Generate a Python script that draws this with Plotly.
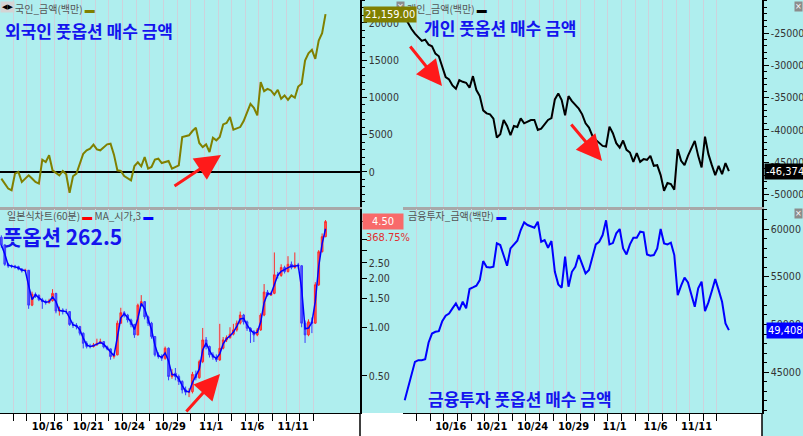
import numpy as np
import pandas as pd
import plotly.graph_objects as go

W, H = 803, 436

# ---------------- data ----------------
days = ["10/11", "10/14", "10/15", "10/16", "10/17", "10/18", "10/21", "10/22", "10/23",
        "10/24", "10/25", "10/28", "10/29", "10/30", "10/31", "11/1", "11/4", "11/5",
        "11/6", "11/7", "11/8", "11/11", "11/12", "11/13"]
label_days = ["10/16", "10/21", "10/24", "10/29", "11/1", "11/6", "11/11"]
bars_per_day = 4

foreign_amt = [-890, -1560, -2230, -2450, -220, 0, -1340, -890, -450, -890,
               -1340, -1560, 1650, 1340, 2230, 220, -130, -450, 130, -310,
               -2810, -580, -220, 1120, 2450, 2900, 3120, 3660, 3030, 2900,
               3340, 3700, 3790, 2320, 220, 130, -540, -800, -1120, 800,
               1290, 760, 2010, 450, 670, 1650, 1780, 1200, 1340, 1470,
               450, 670, 890, 4680, 4770, 4910, 5490, 5930, 3880, 3340,
               3700, 2680, 4590, 4240, 4680, 6380, 6560, 7360, 5660, 5800,
               6020, 6820, 8030, 9140, 8610, 7580, 12040, 10840, 11150, 10930,
               10350, 11020, 9810, 10260, 9680, 10260, 9950, 11460, 11820, 14940,
               15920, 16370, 15160, 17620, 18600, 21159]

individual_amt = [-22530, -23560, -24380, -25100, -25620, -26230, -26030, -26800, -27060, -28190,
                  -28600, -30140, -31840, -32200, -33120, -33640, -32300, -32560, -32710, -33480,
                  -31680, -33840, -34770, -36980, -37440, -37590, -38260, -41190, -40680, -38470,
                  -39390, -40830, -39390, -39550, -38210, -38980, -38780, -38470, -38470, -40010,
                  -39800, -39140, -38470, -38160, -35280, -34350, -35380, -37750, -34770, -35540,
                  -36200, -36720, -37590, -38980, -39650, -40930, -41550, -41960, -42480, -42580,
                  -39490, -40520, -42060, -42730, -41650, -43090, -43500, -44940, -43610, -44940,
                  -44530, -44630, -44020, -45560, -45460, -47000, -49420, -48230, -48390, -49260,
                  -42990, -44790, -45460, -44020, -42730, -41700, -44020, -45820, -41040, -43760,
                  -45460, -47000, -45560, -46850, -45150, -46374]

finance_amt = [42060, 43460, 44750, 46080, 46260, 46260, 46360, 48110, 49050, 49230,
               49300, 50350, 50910, 51150, 51680, 52200, 51500, 52380, 51680, 53710,
               53880, 54060, 54650, 56640, 56010, 55980, 56050, 58500, 58320, 57270,
               56150, 57970, 58390, 58780, 59900, 60700, 60420, 60240, 60140, 60770,
               58670, 58850, 58040, 58740, 55520, 54200, 53850, 57100, 53950, 55520,
               56050, 57270, 56290, 55350, 55700, 57100, 58390, 58670, 59370, 60910,
               58390, 58530, 59550, 60000, 57970, 57340, 58390, 59090, 59090, 59720,
               59650, 57340, 57200, 57270, 57970, 60000, 58500, 58390, 58570, 57270,
               53080, 54060, 54900, 54410, 53080, 51850, 53780, 54480, 51400, 52310,
               53500, 54750, 53600, 52380, 50100, 49408]

put_open = [3.60, 3.23, 2.45, 2.39, 2.39, 2.37, 2.29, 2.23, 2.25, 1.37,
            1.60, 1.57, 1.48, 1.44, 1.42, 1.46, 1.62, 1.26, 1.28, 1.25,
            1.25, 1.04, 1.03, 1.01, 0.918, 0.796, 0.760, 0.760, 0.778, 0.796,
            0.815, 0.756, 0.735, 0.659, 0.675, 1.06, 1.23, 1.19, 1.11, 1.04,
            0.897, 1.37, 1.44, 1.16, 1.06, 0.876, 0.675, 0.659, 0.643, 0.742,
            0.496, 0.520, 0.496, 0.462, 0.410, 0.397, 0.400, 0.512, 0.488, 0.613,
            0.835, 0.760, 0.675, 0.653, 0.628, 0.742, 0.835, 0.863, 0.906, 0.963,
            1.06, 1.19, 1.08, 0.986, 0.940, 0.897, 0.963, 1.19, 1.65, 1.58,
            1.62, 2.11, 2.09, 2.34, 2.21, 2.45, 2.34, 2.43, 2.40, 1.06,
            0.897, 1.08, 1.06, 1.83, 2.93, 3.63]
put_high = [3.70, 3.25, 2.50, 2.44, 2.43, 2.40, 2.32, 2.30, 2.26, 1.66,
            1.64, 1.60, 1.52, 1.48, 1.50, 1.72, 1.63, 1.34, 1.31, 1.30,
            1.26, 1.08, 1.06, 1.02, 0.93, 0.82, 0.79, 0.80, 0.85, 0.85,
            0.82, 0.77, 0.74, 0.69, 1.10, 1.32, 1.26, 1.21, 1.13, 1.05,
            1.40, 1.58, 1.45, 1.18, 1.08, 0.88, 0.70, 0.68, 0.76, 0.75,
            0.55, 0.56, 0.51, 0.47, 0.43, 0.42, 0.53, 0.54, 0.63, 0.99,
            0.87, 0.77, 0.70, 0.68, 1.05, 0.87, 0.89, 1.00, 1.05, 1.10,
            1.25, 1.21, 1.10, 1.00, 0.96, 0.99, 1.22, 1.85, 1.70, 1.66,
            2.90, 2.20, 2.45, 2.40, 2.75, 2.55, 2.90, 2.50, 2.42, 1.10,
            1.12, 1.15, 1.90, 3.00, 3.80, 4.60]
put_low = [3.10, 2.40, 2.33, 2.32, 2.30, 2.25, 2.18, 2.20, 1.30, 1.35,
           1.52, 1.45, 1.30, 1.38, 1.40, 1.44, 1.22, 1.18, 1.20, 1.21,
           1.02, 0.99, 0.97, 0.89, 0.74, 0.74, 0.74, 0.75, 0.77, 0.79,
           0.74, 0.72, 0.63, 0.64, 0.67, 1.05, 1.15, 1.07, 1.00, 0.86,
           0.89, 1.34, 1.12, 1.02, 0.85, 0.66, 0.64, 0.62, 0.63, 0.47,
           0.48, 0.47, 0.44, 0.39, 0.38, 0.37, 0.39, 0.47, 0.48, 0.60,
           0.73, 0.65, 0.63, 0.61, 0.62, 0.73, 0.81, 0.85, 0.89, 0.94,
           1.04, 1.04, 0.95, 0.80, 0.81, 0.88, 0.95, 1.17, 1.55, 1.56,
           1.60, 2.00, 2.05, 2.15, 2.18, 2.28, 2.30, 2.30, 1.00, 0.80,
           0.88, 0.92, 1.05, 1.80, 2.90, 3.60]
put_close = [3.23, 2.45, 2.39, 2.39, 2.37, 2.29, 2.23, 2.25, 1.37, 1.60,
             1.57, 1.48, 1.44, 1.42, 1.46, 1.62, 1.26, 1.28, 1.25, 1.25,
             1.04, 1.03, 1.01, 0.918, 0.796, 0.760, 0.760, 0.778, 0.796, 0.815,
             0.756, 0.735, 0.659, 0.675, 1.06, 1.23, 1.19, 1.11, 1.04, 0.897,
             1.37, 1.44, 1.16, 1.06, 0.876, 0.675, 0.659, 0.643, 0.742, 0.496,
             0.520, 0.496, 0.462, 0.410, 0.397, 0.400, 0.512, 0.488, 0.613, 0.835,
             0.760, 0.675, 0.653, 0.628, 0.742, 0.835, 0.863, 0.906, 0.963, 1.06,
             1.19, 1.08, 0.986, 0.940, 0.897, 0.963, 1.19, 1.65, 1.58, 1.62,
             2.11, 2.09, 2.34, 2.21, 2.45, 2.34, 2.43, 2.40, 1.06, 0.897,
             1.08, 1.06, 1.83, 2.93, 3.63, 4.50]
put_change_pct = "368.75%"

tl_ticks = [0, 5000, 10000, 15000, 20000]
tr_ticks = [-50000, -45000, -40000, -35000, -30000, -25000]
br_ticks = [45000, 50000, 55000, 60000]
bl_ticks = [0.5, 1.0, 1.5, 2.0, 2.5, 3.0, 3.5, 4.5]
bl_ticktext = ["0.50", "1.00", "1.50", "2.00", "2.50", "", "", ""]

# ---------------- derived ----------------
nbars = len(days) * bars_per_day
t = np.array([(i // bars_per_day) - 1 + ((i % bars_per_day) + 0.5) / bars_per_day
              for i in range(nbars)])
# short moving average line (the hourly MA tracks price closely at this sampling)
ma_line = pd.Series(put_close).rolling(2, min_periods=1).mean()
boundaries = list(range(0, len(days) - 1))
label_pos = [days.index(d) - 1 + 0.5 for d in label_days]


def px(x):
    return x / W


def py(y):
    return 1 - y / H


BG = "#afeeee"
GRID = "#cdd2dc"
NARROW = "Liberation Sans Narrow, Arial Narrow, DejaVu Sans Condensed, Liberation Sans, Arial, sans-serif"
KFONT = "Noto Sans CJK KR, sans-serif"

fig = go.Figure()
fig.add_trace(go.Scatter(x=t, y=foreign_amt, mode="lines", line=dict(color="#808000", width=2),
                         xaxis="x", yaxis="y", showlegend=False))
fig.add_trace(go.Scatter(x=t, y=individual_amt, mode="lines", line=dict(color="#000000", width=2),
                         xaxis="x2", yaxis="y2", showlegend=False))
fig.add_trace(go.Candlestick(x=t, open=put_open, high=put_high, low=put_low, close=put_close,
                             increasing=dict(line=dict(color="#ff2a2a", width=1), fillcolor="#ff5a5a"),
                             decreasing=dict(line=dict(color="#3a3aff", width=1), fillcolor="#5a5aff"),
                             whiskerwidth=0, xaxis="x3", yaxis="y3", showlegend=False))
fig.add_trace(go.Scatter(x=t, y=ma_line, mode="lines", line=dict(color="#0000ff", width=1.5),
                         xaxis="x3", yaxis="y3", showlegend=False))
fig.add_trace(go.Scatter(x=t, y=finance_amt, mode="lines", line=dict(color="#0000ff", width=2),
                         xaxis="x4", yaxis="y4", showlegend=False))

left_dom = [0, px(360)]
right_dom = [px(403), px(762)]
top_dom = [py(207), 1]
bot_dom = [py(413), py(209)]
left_rng = [-0.974, 25.4]
right_rng = [-1.0, 25.3]


def xax(domain, rng, anchor, bottom):
    d = dict(domain=domain, range=rng, anchor=anchor, showgrid=False, zeroline=False,
             showline=True, fixedrange=True,
             minor=dict(tickmode="array", tickvals=boundaries, showgrid=True,
                        gridcolor=GRID, gridwidth=1,
                        ticks="outside" if bottom else "", ticklen=7, tickcolor="#000000"))
    if bottom:
        d.update(linecolor="#000000", linewidth=1, tickmode="array", tickvals=label_pos,
                 ticktext=[f"<b>{s}</b>" for s in label_days], ticks="outside", ticklen=3,
                 tickcolor="rgba(0,0,0,0)", tickfont=dict(family=NARROW, size=11, color="#000000"))
    else:
        d.update(linecolor="#a8a8a8", linewidth=3, showticklabels=False, ticks="")
    return d


def yax(domain, rng, anchor, **kw):
    d = dict(domain=domain, range=rng, anchor=anchor, side="right", showgrid=False,
             zeroline=False, showline=True, linecolor="#000000", linewidth=1.5,
             ticks="outside", ticklen=5, tickcolor="#000000",
             tickfont=dict(family=NARROW, size=10.5, color="#333333"), fixedrange=True)
    d.update(kw)
    return d


minor_y = dict(dtick=1000, ticks="outside", ticklen=3, tickcolor="#000000")

layout = dict(
    width=W, height=H, margin=dict(l=0, r=0, t=0, b=0),
    paper_bgcolor=BG, plot_bgcolor=BG, showlegend=False,
    xaxis=xax(left_dom, left_rng, "y", False),
    xaxis2=xax(right_dom, right_rng, "y2", False),
    xaxis3=dict(xax(left_dom, left_rng, "y3", True), rangeslider=dict(visible=False)),
    xaxis4=xax(right_dom, right_rng, "y4", True),
    yaxis=yax(top_dom, [-4700, 23060], "x", tickvals=tl_ticks, ticktext=[str(v) for v in tl_ticks],
              zeroline=True, zerolinecolor="#000000", zerolinewidth=1.5, minor=minor_y),
    yaxis2=yax(top_dom, [-51940, -19890], "x2", tickvals=tr_ticks,
               ticktext=[str(v) for v in tr_ticks], minor=minor_y),
    yaxis3=yax(bot_dom, [-0.530, 0.731], "x3", type="log", tickvals=bl_ticks, ticktext=bl_ticktext),
    yaxis4=yax(bot_dom, [40720, 62100], "x4", tickvals=br_ticks,
               ticktext=[str(v) for v in br_ticks], minor=minor_y),
)
fig.update_layout(**layout)

# bottom date band
fig.add_shape(type="rect", xref="paper", yref="paper", x0=0, x1=px(762), y0=0, y1=py(413),
              fillcolor="#ffffff", line=dict(width=0), layer="below")
for xx in (360, 762):
    fig.add_shape(type="line", xref="paper", yref="paper", x0=px(xx), x1=px(xx), y0=0, y1=py(413),
                  line=dict(color="#000000", width=1.5))

ann = []
# header captions
ann.append(dict(x=0, y=py(7), xref="paper", yref="paper", xanchor="left", yanchor="middle",
                text="◀▶", showarrow=False, bgcolor="#d4d4d4",
                font=dict(family="DejaVu Sans", size=7, color="#000000")))
ann.append(dict(x=px(13), y=py(8), xref="paper", yref="paper", xanchor="left", yanchor="middle",
                text="국인_금액(백만) <span style='color:#808000'>▬</span>", showarrow=False,
                font=dict(family=KFONT, size=10, color="#555555")))
ann.append(dict(x=px(405), y=py(8), xref="paper", yref="paper", xanchor="left", yanchor="middle",
                text="개인_금액(백만) <span style='color:#000000'>▬</span>", showarrow=False,
                font=dict(family=KFONT, size=10, color="#555555")))
ann.append(dict(x=px(5), y=py(215), xref="paper", yref="paper", xanchor="left", yanchor="middle",
                text="일본식차트(60분) <span style='color:#ff0000'>▬</span> MA_시가,3 <span style='color:#0000ff'>▬</span>",
                showarrow=False, font=dict(family=KFONT, size=10, color="#555555")))
ann.append(dict(x=px(406), y=py(215), xref="paper", yref="paper", xanchor="left", yanchor="middle",
                text="금융투자_금액(백만) <span style='color:#0000ff'>▬</span>", showarrow=False,
                font=dict(family=KFONT, size=10, color="#555555")))
# small close icons
for (ix, iy) in [(400, 6), (798, 6), (798, 213)]:
    ann.append(dict(x=px(ix), y=py(iy), xref="paper", yref="paper", xanchor="center", yanchor="middle",
                    text="×", showarrow=False, bgcolor="#8c8c8c", borderpad=0,
                    font=dict(family="DejaVu Sans", size=8, color="#ffffff")))

# big titles
title_font = dict(family=KFONT, size=17, color="#1414ee")
ann.append(dict(x=px(3), y=py(30), xref="paper", yref="paper", xanchor="left", yanchor="middle",
                text="<b>외국인 풋옵션 매수 금액</b>", showarrow=False, font=title_font))
ann.append(dict(x=px(422), y=py(27), xref="paper", yref="paper", xanchor="left", yanchor="middle",
                text="<b>개인 풋옵션 매수 금액</b>", showarrow=False, font=title_font))
ann.append(dict(x=px(426), y=py(398), xref="paper", yref="paper", xanchor="left", yanchor="middle",
                text="<b>금융투자 풋옵션 매수 금액</b>", showarrow=False, font=title_font))
ann.append(dict(x=px(1), y=py(236), xref="paper", yref="paper", xanchor="left", yanchor="middle",
                text="<b>풋옵션 262.5</b>", showarrow=False,
                font=dict(family=KFONT, size=21, color="#1414ee")))

# last-value boxes
ann.append(dict(x=px(363), y=foreign_amt[-1], xref="paper", yref="y", xanchor="left", yanchor="middle",
                text=f"{foreign_amt[-1]:,.2f}", showarrow=False, bgcolor="#808000", borderpad=1,
                font=dict(family=NARROW, size=11, color="#ffffff")))
ann.append(dict(x=px(764), y=individual_amt[-1], xref="paper", yref="y2", xanchor="left", yanchor="middle",
                text=f"{individual_amt[-1]:,.1f}", showarrow=False, bgcolor="#000000", borderpad=1,
                font=dict(family=NARROW, size=11, color="#ffffff")))
ann.append(dict(x=px(766), y=finance_amt[-1], xref="paper", yref="y4", xanchor="left", yanchor="middle",
                text=f"{finance_amt[-1]:,.1f}", showarrow=False, bgcolor="#0000ff", borderpad=1,
                font=dict(family=NARROW, size=11, color="#ffffff")))
ann.append(dict(x=px(362), y=np.log10(put_close[-1]), xref="paper", yref="y3", xanchor="left",
                yanchor="middle", text=f"{put_close[-1]:.2f}", showarrow=False, bgcolor="#f86a6a",
                width=38, height=13, align="center",
                font=dict(family=NARROW, size=11, color="#ffffff")))
ann.append(dict(x=px(364), y=py(237), xref="paper", yref="paper", xanchor="left", yanchor="middle",
                text=put_change_pct, showarrow=False,
                font=dict(family=NARROW, size=11, color="#e03030")))

# red arrows (tail -> tip, pixel coordinates)
arrows = [((173, 187), (221, 155)), ((409, 45), (442, 86)), ((570, 123), (602, 161)),
          ((185, 413), (220, 374))]
for (tx, ty), (hx, hy) in arrows:
    ann.append(dict(x=px(hx), y=py(hy), xref="paper", yref="paper", ax=tx - hx, ay=ty - hy,
                    axref="pixel", ayref="pixel", showarrow=True, arrowhead=2, arrowsize=1.7,
                    arrowwidth=3, arrowcolor="#ff1a1a", text=""))

fig.update_layout(annotations=ann)
fig.write_html("out.html", config={"displayModeBar": False},
               post_script="document.body.style.margin='0';document.body.style.overflow='hidden';")
